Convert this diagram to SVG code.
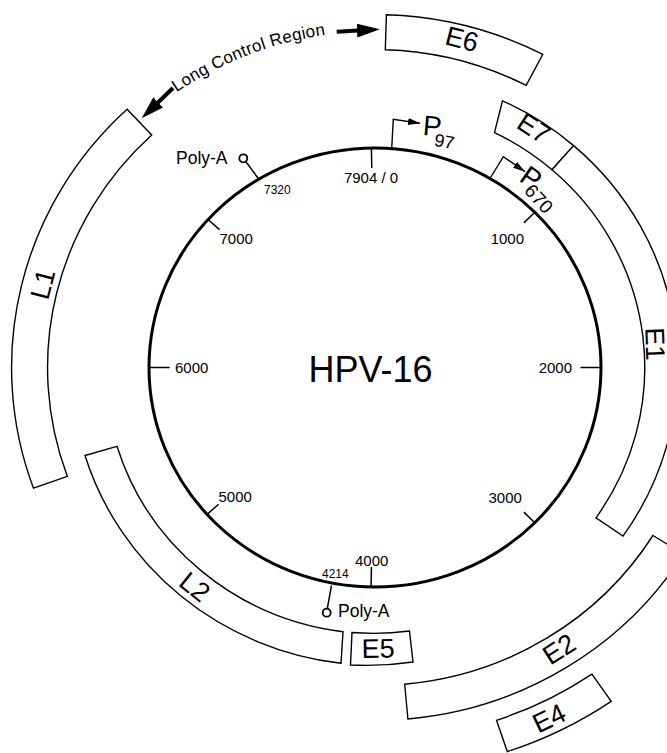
<svg xmlns="http://www.w3.org/2000/svg" width="667" height="753" viewBox="0 0 667 753">
<defs>
<style>
.box{fill:#fff;stroke:#000;stroke-width:1.4;stroke-linejoin:miter}
.gl{font-family:"Liberation Sans",Arial,sans-serif;font-size:27px;fill:#000;text-anchor:middle}
.tk{stroke:#000;stroke-width:1.5;fill:none}
.num{font-family:"Liberation Sans",Arial,sans-serif;font-size:15px;fill:#000}
.sm{font-size:12px}
.pa{font-family:"Liberation Sans",Arial,sans-serif;font-size:17.5px;fill:#000}
.pl{font-family:"Liberation Sans",Arial,sans-serif;fill:#000;text-anchor:middle}
.pr{stroke:#000;stroke-width:1.4;fill:none;marker-end:url(#ah)}
.lcr{stroke:#000;stroke-width:4;fill:none;marker-end:url(#big)}
.pac{fill:#fff;stroke:#000;stroke-width:1.8}
</style>
<marker id="ah" markerUnits="userSpaceOnUse" markerWidth="13" markerHeight="8" refX="12" refY="4" orient="auto"><path d="M0,0.5 L12,4 L0,7.5 Z" fill="#000"/></marker>
<marker id="big" markerUnits="userSpaceOnUse" markerWidth="24" markerHeight="14" refX="1" refY="7" orient="auto"><path d="M0,0 L23,7 L0,14 Z" fill="#000"/></marker>
<path id="lcrPath" d="M176.6,92.3 A345.9,336 0 0,1 362.9,31.7" fill="none"/>
</defs>
<rect width="667" height="753" fill="#fff"/>

<g id="genome">
<ellipse cx="375" cy="367.5" rx="226" ry="219.5" fill="none" stroke="#000" stroke-width="3"/>
<line class="tk" x1="371.4" y1="148" x2="371.8" y2="168"/>
<line class="tk" x1="534.8" y1="212.3" x2="523.9" y2="222.9"/>
<line class="tk" x1="601" y1="367.5" x2="580.4" y2="367.5"/>
<line class="tk" x1="534.8" y1="522.7" x2="523.9" y2="512.1"/>
<line class="tk" x1="371.1" y1="587" x2="371.4" y2="567"/>
<line class="tk" x1="207.1" y1="514.4" x2="218.5" y2="504.3"/>
<line class="tk" x1="149" y1="367.5" x2="169.6" y2="367.5"/>
<line class="tk" x1="208.1" y1="219.5" x2="219.5" y2="229.6"/>
<text class="num" x="371" y="183" text-anchor="middle">7904 / 0</text>
<text class="num" x="524" y="244" text-anchor="end">1000</text>
<text class="num" x="572" y="372.5" text-anchor="end">2000</text>
<text class="num" x="488.5" y="503">3000</text>
<text class="num" x="355" y="566">4000</text>
<text class="num" x="218.5" y="502">5000</text>
<text class="num" x="175" y="372.5">6000</text>
<text class="num" x="219.5" y="244">7000</text>
<text class="num sm" x="264" y="194">7320</text>
<text class="num sm" x="322" y="578">4214</text>
<text x="370.5" y="382" font-family="Liberation Sans, Arial, sans-serif" font-size="36" text-anchor="middle">HPV-16</text>
</g>

<g id="polyA1">
<line class="tk" x1="245.7" y1="161.5" x2="258.9" y2="179.2"/>
<circle class="pac" cx="243.3" cy="158.3" r="4"/>
<text class="pa" x="176" y="164">Poly-A</text>
</g>
<g id="polyA2">
<line class="tk" x1="327.3" y1="608.7" x2="331.5" y2="585.5"/>
<circle class="pac" cx="326.7" cy="612.7" r="4"/>
<text class="pa" x="338" y="617">Poly-A</text>
</g>

<g id="P97">
<text class="pl" font-size="28" transform="translate(432.5,125.5) rotate(5)" y="10">P</text>
<text class="pl" font-size="18" transform="translate(444.5,141) rotate(10)" y="6.5">97</text>
</g>
<g id="P670">
<text class="pl" font-size="28" transform="translate(531.5,177.5) rotate(35)" y="10">P</text>
<text class="pl" font-size="19" transform="translate(539,198.5) rotate(48)" y="6.8">670</text>
</g>

<g id="E6">
<path class="box" d="M386.4,14.7 A363.45,353 0 0,1 542.8,54.4 L526.2,85.4 A327.41,318 0 0,0 385.3,49.7 Z"/>
<text class="gl" transform="translate(462,39) rotate(14.4)" y="9.5">E6</text>
</g>
<g id="E7">
<path class="box" d="M502.5,100.8 A302.7,294 0 0,1 573.6,145.6 L552,169.8 A269.76,262 0 0,0 494.5,132.6 Z"/>
<text class="gl" transform="translate(534,128) rotate(33)" y="9.5">E7</text>
</g>
<g id="E1">
<path class="box" d="M573.6,145.6 A302.7,294 0 0,1 623,536.1 L596,517.8 A269.76,262 0 0,0 552,169.8 Z"/>
<text class="gl" font-size="22" transform="translate(653.5,344) rotate(88)" y="7.7">E1</text>
</g>
<g id="E2">
<path class="box" d="M652.9,535.5 L683.5,554 A363.45,353 0 0,1 407.9,719 L404.7,684.2 A327.41,318 0 0,0 652.9,535.5 Z"/>
<text class="gl" transform="translate(559,649) rotate(-32.4)" y="9.5">E2</text>
</g>
<g id="E4">
<path class="box" d="M591.9,674.1 L611.2,701.3 A416.99,405 0 0,1 507.3,751.6 L496.5,720.3 A383.01,372 0 0,0 591.9,674.1 Z"/>
<text class="gl" transform="translate(549,718) rotate(-25.7)" y="9.5">E4</text>
</g>
<g id="E5">
<path class="box" d="M409.5,631 L413,662 A305.79,297 0 0,1 350.5,665 L352,632.5 A272.84,265 0 0,0 409.5,631 Z"/>
<text class="gl" transform="translate(378,648.3) rotate(-1)" y="9.5">E5</text>
</g>
<g id="L2">
<path class="box" d="M343,631.8 L341,663.3 A305.79,297 0 0,1 85,455.5 L117,446.3 A272.84,265 0 0,0 343,631.8 Z"/>
<text class="gl" transform="translate(195,586.7) rotate(38.6)" y="9.5">L2</text>
</g>
<g id="L1">
<path class="box" d="M67.3,476.3 L33.5,488.2 A363.45,353 0 0,1 127.1,109.3 L151.7,134.9 A327.41,318 0 0,0 67.3,476.3 Z"/>
<text class="gl" transform="translate(42.5,284) rotate(-75.5)" y="9.5">L1</text>
</g>

<g id="LCR">
<text font-family="Liberation Sans, Arial, sans-serif" font-size="17" fill="#000"><textPath href="#lcrPath" textLength="161" lengthAdjust="spacing">Long Control Region</textPath></text>
</g>

<g id="connectors">
<path class="pr" d="M391.7,148.6 L393.3,119.3 L420,123.3"/>
<path class="pr" d="M490,178.5 L503.3,156.7 L525,171.7"/>
<line class="lcr" x1="173" y1="88" x2="157.5" y2="103"/>
<line class="lcr" x1="336.7" y1="31.7" x2="358" y2="30.5"/>
</g>
</svg>
